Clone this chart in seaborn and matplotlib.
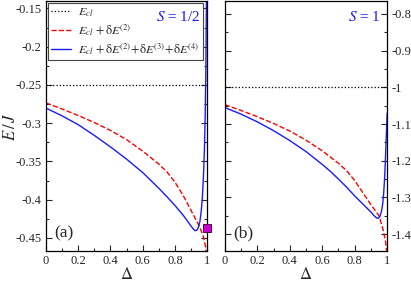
import numpy as np
import pandas as pd
import seaborn as sns
from matplotlib import pyplot as plt
from matplotlib.ticker import MultipleLocator

# S = 1/2 panel (a)
delta_red_a = [0, 0.1, 0.2, 0.3, 0.4, 0.5, 0.6, 0.7, 0.75, 0.8, 0.85, 0.9, 0.95, 0.975, 0.99, 1.0]
e_red_a = [-0.2736, -0.2815, -0.2900, -0.2992, -0.3095, -0.3215, -0.3365, -0.3535, -0.3635, -0.377,
           -0.394, -0.414, -0.434, -0.447, -0.461, -0.48]
delta_blue_a = [0, 0.1, 0.2, 0.3, 0.4, 0.5, 0.6, 0.7, 0.75, 0.8, 0.85, 0.88, 0.9, 0.915, 0.925, 0.935,
                0.945, 0.955, 0.963, 0.97, 0.977, 0.983, 0.988, 0.992, 0.996]
e_blue_a = [-0.2803, -0.2905, -0.3020, -0.3160, -0.3310, -0.3470, -0.3645, -0.3850, -0.3960, -0.4075,
            -0.4200, -0.4285, -0.4345, -0.4385, -0.4405, -0.4400, -0.4365, -0.4285, -0.4155, -0.3985,
            -0.3700, -0.335, -0.290, -0.230, -0.130]
e_cl_a = -0.25
marker_a = (1.0, -0.4375)

# S = 1 panel (b)
delta_red_b = [0, 0.1, 0.2, 0.3, 0.4, 0.5, 0.6, 0.7, 0.75, 0.8, 0.85, 0.9, 0.95, 0.975, 0.99, 1.0]
e_red_b = [-1.0472, -1.063, -1.080, -1.0984, -1.119, -1.144, -1.173, -1.207, -1.227, -1.254,
           -1.287, -1.320, -1.350, -1.388, -1.420, -1.46]
delta_blue_b = [0, 0.1, 0.2, 0.3, 0.4, 0.5, 0.6, 0.65, 0.7, 0.75, 0.8, 0.85, 0.9, 0.92, 0.935, 0.945,
                0.955, 0.965, 0.973, 0.979, 0.984, 0.989, 0.994, 1.0]
e_blue_b = [-1.055, -1.073, -1.094, -1.118, -1.145, -1.175, -1.210, -1.229, -1.250, -1.272, -1.296,
            -1.318, -1.340, -1.350, -1.356, -1.357, -1.352, -1.338, -1.316, -1.285, -1.250, -1.20,
            -1.14, -1.07]
e_cl_b = -1.0

sns.set_style("ticks")
plt.rcParams['font.family'] = ['Liberation Serif', 'DejaVu Serif']
plt.rcParams['mathtext.fontset'] = 'stix'

fig = plt.figure(figsize=(4.11, 2.82), dpi=100)
ax_a = fig.add_axes([0.112, 0.110, 0.392, 0.886])
ax_b = fig.add_axes([0.547, 0.110, 0.395, 0.886])

lab_cl = r"$E_{cl}$"
lab_2 = r"$E_{cl}\,+\mathrm{\delta}E^{(2)}$"
lab_4 = r"$E_{cl}\,+\mathrm{\delta}E^{(2)}\!+\!\mathrm{\delta}E^{(3)}\!+\!\mathrm{\delta}E^{(4)}$"

panels = [
    (ax_a, e_cl_a, delta_red_a, e_red_a, delta_blue_a, e_blue_a),
    (ax_b, e_cl_b, delta_red_b, e_red_b, delta_blue_b, e_blue_b),
]
for ax, ecl, dr, er, db, eb in panels:
    df_cl = pd.DataFrame({'delta': [0, 1], 'E': [ecl, ecl]})
    df_r = pd.DataFrame({'delta': dr, 'E': er})
    df_b = pd.DataFrame({'delta': db, 'E': eb})
    sns.lineplot(data=df_cl, x='delta', y='E', ax=ax, color='black', linestyle=':', lw=0.9, label=lab_cl)
    sns.lineplot(data=df_r, x='delta', y='E', ax=ax, color='red', linestyle='--', lw=1.0, label=lab_2,
                 sort=False, estimator=None)
    sns.lineplot(data=df_b, x='delta', y='E', ax=ax, color='#1a1aff', lw=1.0, label=lab_4,
                 sort=False, estimator=None)
    ax.set_xlim(0, 1)
    ax.xaxis.set_minor_locator(MultipleLocator(0.1))
    ax.set_xticks([0, 0.2, 0.4, 0.6, 0.8, 1.0])
    ax.set_xticklabels(['0', '0.2', '0.4', '0.6', '0.8', '1'])
    ax.set_xlabel(r"$\Delta$", fontsize=12, labelpad=0)
    ax.tick_params(which='both', direction='in', left=True, right=True, labelsize=9, pad=3)
    ax.tick_params(which='major', length=4, width=0.8)
    ax.tick_params(which='minor', length=2, width=0.8)
    for s in ax.spines.values():
        s.set_visible(True)
        s.set_color('black')
        s.set_linewidth(0.9)

ax_a.set_ylim(-0.467, -0.1405)
ax_a.yaxis.set_minor_locator(MultipleLocator(0.025))
ax_a.set_yticks([-0.45, -0.4, -0.35, -0.3, -0.25, -0.2, -0.15])
ax_a.set_yticklabels(['-0.45', '-0.4', '-0.35', '-0.3', '-0.25', '-0.2', '-0.15'])
ax_a.set_ylabel(r"$E\,/\,J$", fontsize=12)
ax_a.yaxis.set_label_coords(-0.17, 0.5)
ax_a.plot([marker_a[0]], [marker_a[1]], marker='s', ms=6, mfc='#cc00cc', mec='#550055', mew=0.7,
          clip_on=False, zorder=5)
leg = ax_a.legend(loc='upper left', fontsize=8.7, frameon=True, fancybox=False, framealpha=1,
                  edgecolor='#444444', handlelength=1.6, borderaxespad=0.15, labelspacing=0.25,
                  borderpad=0.3, handletextpad=0.6)
leg.get_frame().set_linewidth(0.8)
leg.set_zorder(4)
ax_a.text(0.96, 0.965, r"$S$ = 1/2", transform=ax_a.transAxes, ha='right', va='top',
          color='#1a1aff', fontsize=11, zorder=10)
ax_a.text(0.05, 0.04, "(a)", transform=ax_a.transAxes, ha='left', va='bottom', fontsize=12.5)

ax_b.set_ylim(-1.446, -0.765)
ax_b.yaxis.set_minor_locator(MultipleLocator(0.05))
ax_b.set_yticks([-1.4, -1.3, -1.2, -1.1, -1.0, -0.9, -0.8])
ax_b.set_yticklabels(['-1.4', '-1.3', '-1.2', '-1.1', '-1', '-0.9', '-0.8'])
ax_b.yaxis.tick_right()
ax_b.tick_params(which='both', direction='in', left=True, right=True)
ax_b.set_ylabel('')
ax_b.legend().remove()
ax_b.text(0.96, 0.965, r"$S$ = 1", transform=ax_b.transAxes, ha='right', va='top',
          color='#1a1aff', fontsize=11, zorder=10)
ax_b.text(0.05, 0.04, "(b)", transform=ax_b.transAxes, ha='left', va='bottom', fontsize=12.5)

fig.savefig('out.png', dpi=100)
